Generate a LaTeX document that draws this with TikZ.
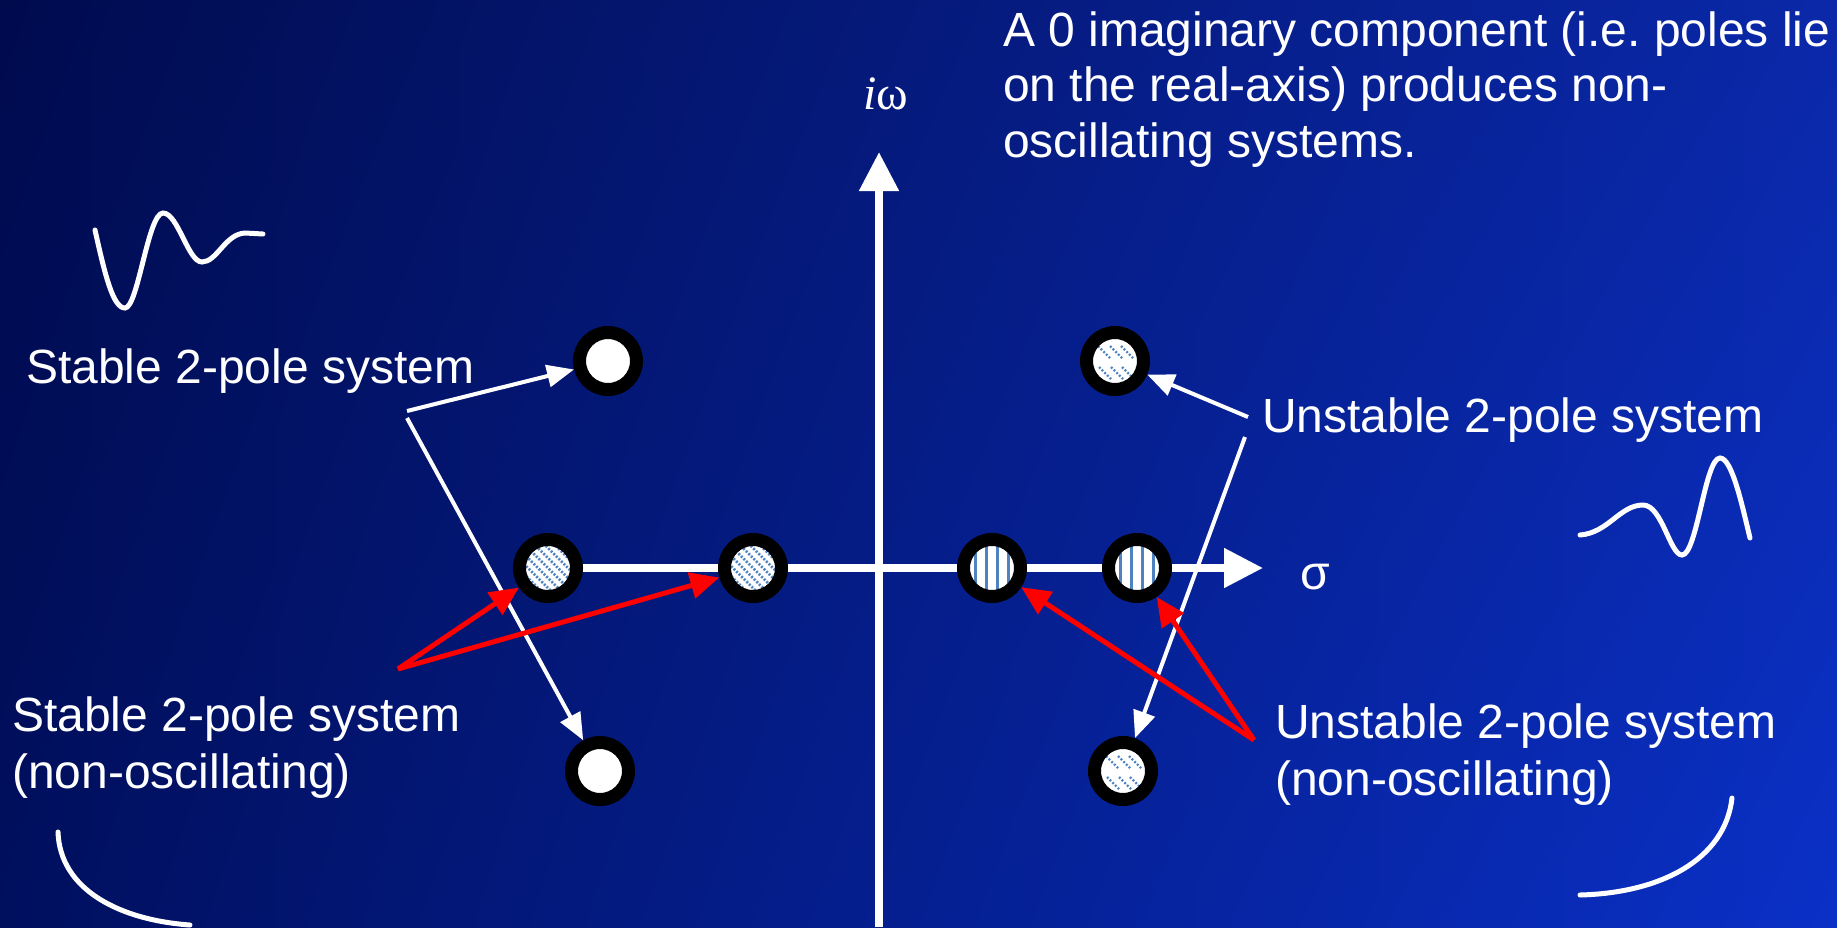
\documentclass[tikz,border=0pt]{standalone}
\usepackage{fontspec}
\setmainfont{Liberation Sans}
\newfontfamily\serifgr{Liberation Serif}
\usetikzlibrary{arrows.meta,shadings}
\definecolor{bgUL}{HTML}{000B4E}
\definecolor{bgLL}{HTML}{000F5E}
\definecolor{bgUR}{HTML}{0A28A8}
\definecolor{bgLR}{HTML}{0A30C6}
\definecolor{patblue}{HTML}{4F82C0}
\definecolor{arrred}{HTML}{FF0000}
\begin{document}
\begin{tikzpicture}[x=1pt,y=1pt,
  pole/.style={circle, draw=black, line width=13pt, fill=white, minimum size=57pt, inner sep=0pt},
  leftpat/.style={path picture={
      \foreach \k in {-6,...,6}
        \draw[patblue, line width=2.6pt, dash pattern=on 2pt off 1.6pt]
          ([shift={(\k*10-40,40)}]path picture bounding box.center) -- ++(80,-80);}},
  rightpat/.style={path picture={
      \foreach \k in {-16.5,-5.5,5.5,16.5}
        \draw[patblue, line width=2.6pt]
          ([shift={(\k,-40)}]path picture bounding box.center) -- ++(0,80);}},
  cpat/.style={path picture={
      \foreach \a/\b in {-11/9,1/9,12/9,-10/-12,2/-12,13/-12}
        \draw[patblue, line width=2.4pt, dash pattern=on 2pt off 1.8pt]
          ([shift={(\a-6,\b+6)}]path picture bounding box.center) -- ++(12,-12);}},
  axis/.style={white, line width=8pt, -{Triangle[length=39pt,width=38pt]}},
  wconn/.style={white, line width=4pt, -{Triangle[length=27pt,width=22pt]}},
  rconn/.style={arrred, line width=5pt, -{Triangle[length=29pt,width=26pt]}},
  wave/.style={white, line width=5pt, line cap=round},
  lbl/.style={text=white, inner sep=0pt, anchor=base west, font=\fontsize{48}{57}\selectfont, align=left}
]
\useasboundingbox (0,0) rectangle (1837,-927);
\shade[upper left=bgUL, lower left=bgLL, upper right=bgUR, lower right=bgLR] (0,0) rectangle (1837,-927);

% axes
\coordinate (hx0) at (513,-568);
\coordinate (hx1) at (1263,-568);
\coordinate (vy0) at (879,-927);
\coordinate (vy1) at (879,-152);
\draw[axis] (hx0) -- (hx1);
\draw[axis] (vy0) -- (vy1);

% poles
\node[pole] (sp1) at (608,-361) {};
\node[pole] (sp2) at (600,-771) {};
\node[pole, leftpat] (r1) at (548,-568) {};
\node[pole, leftpat] (r2) at (753,-568) {};
\node[pole, rightpat] (r3) at (992,-568) {};
\node[pole, rightpat] (r4) at (1137,-568) {};
\node[pole, cpat] (up1) at (1115,-361) {};
\node[pole, cpat] (up2) at (1123,-771) {};

% labels (multi-line nodes: base = last line)
\node[lbl, font=\fontsize{48}{55.5}\selectfont] (tTop) at (1003,-157) {A 0 imaginary component (i.e.\ poles lie\\on the real-axis) produces non-\\oscillating systems.};
\node[text=white, inner sep=0pt, font=\fontsize{48}{54}\selectfont] (tIw) at (886,-94) {{\serifgr\itshape i}\serifgr ω};
\node[lbl] (tSig) at (1300,-589) {σ};
\node[lbl] (tS1) at (26,-383) {Stable 2-pole system};
\node[lbl] (tU1) at (1262,-432) {Unstable 2-pole system};
\node[lbl] (tS2) at (12,-788) {Stable 2-pole system\\(non-oscillating)};
\node[lbl] (tU2) at (1275,-795) {Unstable 2-pole system\\(non-oscillating)};

% white connectors
\coordinate (ls1) at (407,-411);
\coordinate (ls2) at (407,-418);
\coordinate (rs1) at (1248,-417);
\coordinate (rs2) at (1245,-437);
\draw[wconn] (ls1) -- (sp1);
\draw[wconn] (ls2) -- (sp2);
\draw[wconn] (rs1) -- (up1);
\draw[wconn] (rs2) -- (up2);

% red connectors
\coordinate (lr) at (398,-669);
\coordinate (rr) at (1254,-740);
\draw[rconn] (lr) -- (r1);
\draw[rconn] (lr) -- (r2);
\draw[rconn] (rr) -- (r3);
\draw[rconn] (rr) -- (r4);

% response sketches
\draw[wave] (95,-230) .. controls (105,-275) and (113,-308) .. (125,-308)
  .. controls (138,-308) and (148,-213) .. (163,-213)
  .. controls (178,-213) and (188,-262) .. (202,-262)
  .. controls (217,-262) and (225,-234) .. (245,-233) -- (263,-234);
\draw[wave] (1580,-535) .. controls (1608,-533) and (1620,-505) .. (1643,-505)
  .. controls (1662,-505) and (1670,-555) .. (1682,-555)
  .. controls (1697,-555) and (1705,-458) .. (1720,-458)
  .. controls (1732,-458) and (1742,-505) .. (1750,-538);
\draw[wave] (58,-832) .. controls (60,-890) and (120,-920) .. (190,-925);
\draw[wave] (1732,-798) .. controls (1725,-860) and (1660,-893) .. (1580,-895);
\end{tikzpicture}
\end{document}
